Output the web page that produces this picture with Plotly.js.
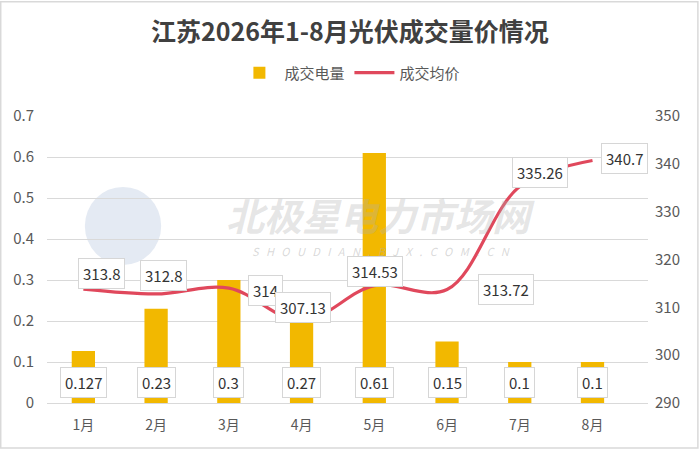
<!DOCTYPE html>
<html>
<head>
<meta charset="utf-8">
<script src="https://cdn.plot.ly/plotly-3.0.1.min.js"></script>
<style>
  html, body { margin: 0; padding: 0; background: #fff; }
  #chart { width: 700px; height: 449px; }
</style>
</head>
<body>
<div id="chart"></div>
<script>
// 江苏2026年1-8月光伏成交量价
const months = ["1月", "2月", "3月", "4月", "5月", "6月", "7月", "8月"];
const volume = [0.127, 0.23, 0.3, 0.27, 0.61, 0.15, 0.1, 0.1];
const volumeText = ["0.127", "0.23", "0.3", "0.27", "0.61", "0.15", "0.1", "0.1"];
const price = [313.8, 312.8, 314, 307.13, 314.53, 313.72, 335.26, 340.7];
const priceText = ["313.8", "312.8", "314", "307.13", "314.53", "313.72", "335.26", "340.7"];

// label offsets (px) for price labels, like the original
const priceShiftX = [18, 7, 37, 1, 1, 59, 20, 32];
const priceShiftY = [16, 18, -2, 14, 14, 0, 14, 2];

const FONT = "Noto Sans CJK SC, Noto Sans, sans-serif";
const BAR_COLOR = "#f2b800";
const LINE_COLOR = "#e0485c";

const bars = {
  x: months,
  y: volume,
  type: "bar",
  name: "成交电量",
  marker: { color: BAR_COLOR },
  width: 0.32,
  hoverinfo: "skip"
};

const line = {
  x: months,
  y: price,
  type: "scatter",
  mode: "lines",
  name: "成交均价",
  yaxis: "y2",
  line: { color: LINE_COLOR, width: 3.2, shape: "spline", smoothing: 1 },
  hoverinfo: "skip"
};

const labelBox = {
  showarrow: false,
  bgcolor: "#ffffff",
  bordercolor: "#d6d6d6",
  borderwidth: 1,
  borderpad: 4,
  font: { family: FONT, size: 15, color: "#333333" }
};

let annotations = [];

// bar labels, near the base of each bar
for (let i = 0; i < months.length; i++) {
  annotations.push(Object.assign({}, labelBox, {
    x: months[i], y: 0.05, xref: "x", yref: "y",
    text: volumeText[i]
  }));
}

// price labels
for (let i = 0; i < months.length; i++) {
  annotations.push(Object.assign({}, labelBox, {
    x: months[i], y: price[i], xref: "x", yref: "y2",
    xshift: priceShiftX[i], yshift: priceShiftY[i],
    text: priceText[i]
  }));
}

// watermark
annotations.push({
  xref: "paper", yref: "paper", x: 0.555, y: 0.657, yanchor: "middle",
  showarrow: false,
  text: "<b><i>北极星电力市场网</i></b>",
  font: { family: FONT, size: 38, color: "rgba(175,175,175,0.33)" }
});
annotations.push({
  xref: "paper", yref: "paper", x: 0.555, y: 0.531, yanchor: "middle",
  showarrow: false,
  text: "<i>S   H   O   U   D   I   A   N   .   B   J   X   .   C   O   M   .   C   N</i>",
  font: { family: FONT, size: 11, color: "rgba(170,170,170,0.45)" }
});

const layout = {
  width: 700,
  height: 449,
  margin: { l: 47, r: 52, t: 116, b: 46 },
  paper_bgcolor: "#ffffff",
  plot_bgcolor: "rgba(0,0,0,0)",
  font: { family: FONT, color: "#595959" },
  title: {
    text: "<b>江苏2026年1-8月光伏成交量价情况</b>",
    font: { family: FONT, size: 25, color: "#404040" },
    x: 0.5, xanchor: "center",
    y: 0.929, yanchor: "middle"
  },
  showlegend: true,
  legend: {
    orientation: "h",
    x: 0.504, xanchor: "center",
    y: 1.15, yanchor: "middle",
    font: { family: FONT, size: 15, color: "#595959" },
    itemwidth: 40
  },
  bargap: 0.68,
  xaxis: {
    type: "category",
    showgrid: false,
    showline: false,
    ticks: "",
    ticklabelstandoff: 12,
    tickfont: { family: FONT, size: 14, color: "#595959" }
  },
  yaxis: {
    range: [0, 0.7],
    dtick: 0.1,
    showgrid: true,
    gridcolor: "#d9d9d9",
    gridwidth: 1,
    zeroline: true,
    zerolinecolor: "#d9d9d9",
    showline: false,
    ticks: "",
    ticklabelstandoff: 12,
    tickfont: { family: FONT, size: 15, color: "#595959" },
    fixedrange: true
  },
  yaxis2: {
    overlaying: "y",
    side: "right",
    range: [290, 350],
    dtick: 10,
    showgrid: false,
    zeroline: false,
    showline: false,
    ticks: "",
    ticklabelstandoff: 6,
    tickfont: { family: FONT, size: 15, color: "#595959" },
    fixedrange: true
  },
  annotations: annotations,
  shapes: [
    {
      type: "circle", xref: "paper", yref: "paper", layer: "below",
      x0: 0.063, x1: 0.19, y0: 0.481, y1: 0.753,
      fillcolor: "#e4eaf3", line: { width: 0 }
    },
    {
      type: "rect", xref: "paper", yref: "paper", layer: "below",
      x0: -0.077, x1: 1.083, y0: -0.157, y1: 1.398,
      line: { color: "#d9d9d9", width: 1.5 }
    }
  ]
};

Plotly.newPlot("chart", [bars, line], layout, { displayModeBar: false, staticPlot: true });
</script>
</body>
</html>
